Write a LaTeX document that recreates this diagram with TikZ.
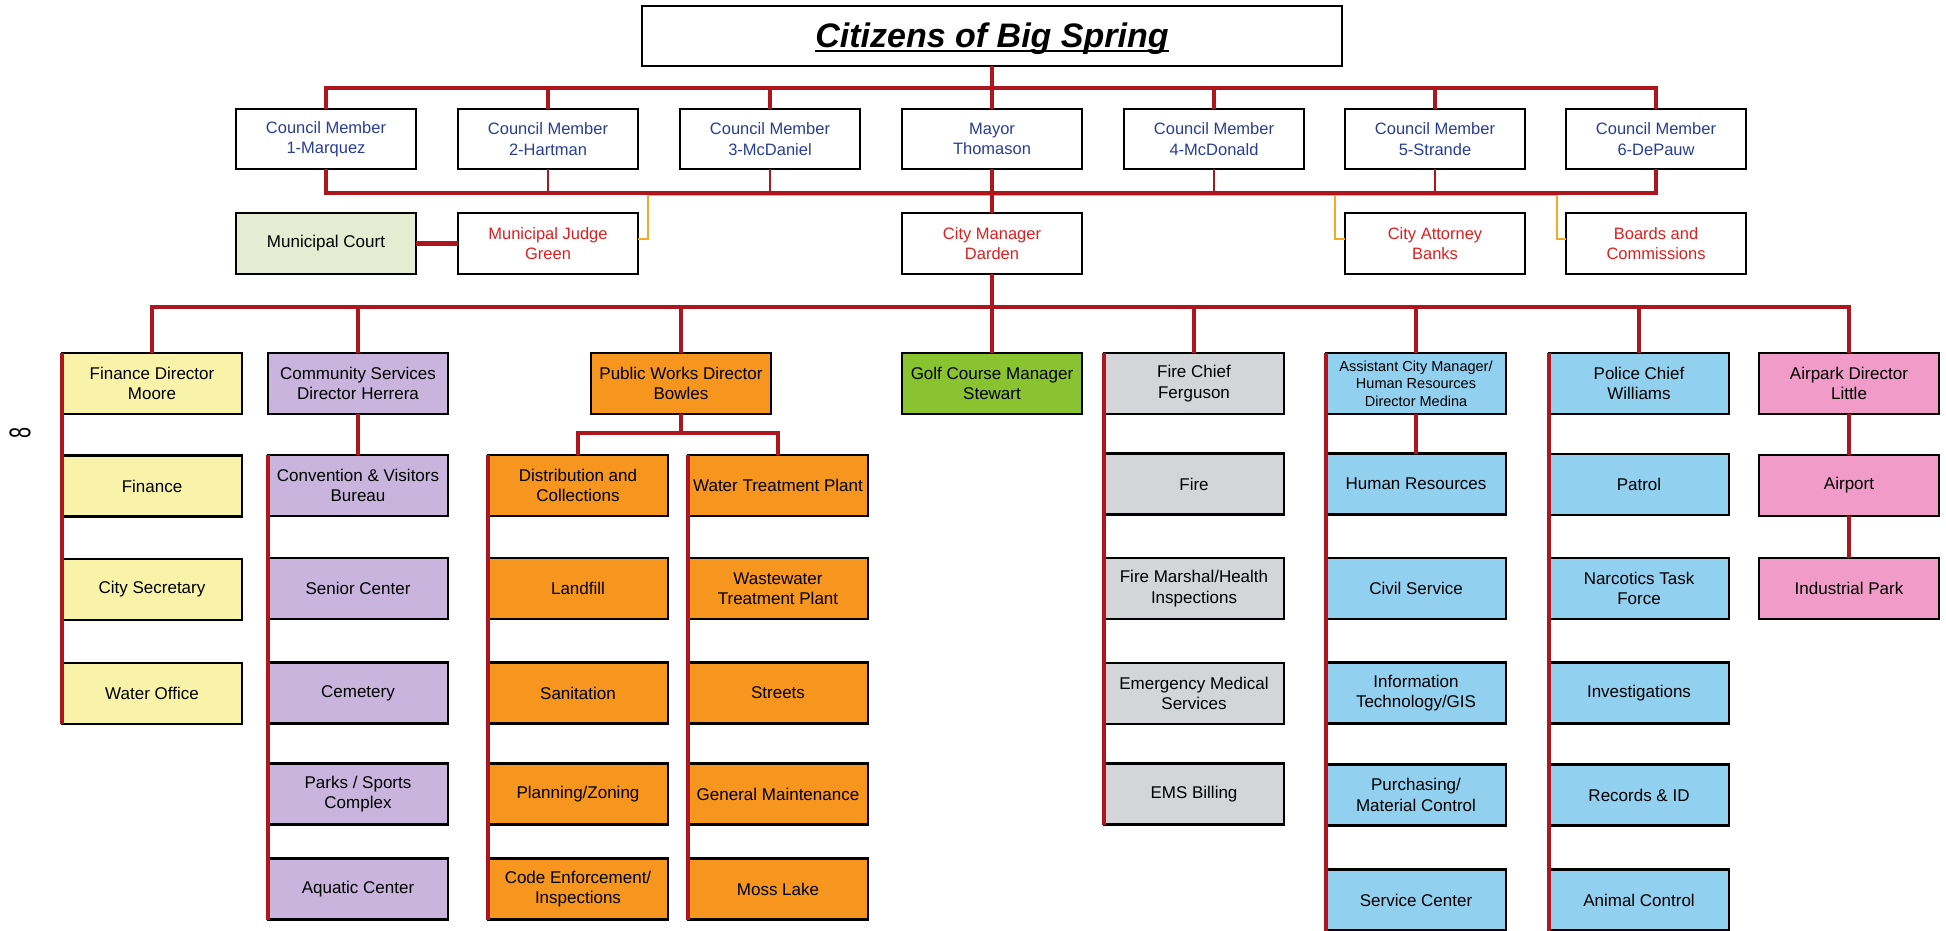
\documentclass[tikz,border=0pt]{standalone}
\usepackage{fontspec}
\setmainfont{Liberation Sans}
\usepackage{graphicx}
\definecolor{lnred}{RGB}{172,22,28}
\definecolor{orline}{RGB}{245,170,35}
\definecolor{cmblue}{RGB}{40,62,150}
\definecolor{txred}{RGB}{225,30,30}
\definecolor{courtg}{RGB}{228,236,210}
\definecolor{finy}{RGB}{249,243,170}
\definecolor{csp}{RGB}{201,180,221}
\definecolor{pwo}{RGB}{247,150,30}
\definecolor{golfg}{RGB}{137,196,48}
\definecolor{fireg}{RGB}{211,213,217}
\definecolor{blu}{RGB}{146,208,240}
\definecolor{pnk}{RGB}{240,155,200}
\begin{document}
\begin{tikzpicture}[x=1pt,y=-1pt,
  box/.style={draw=black, line width=2.8pt, minimum width=180pt, minimum height=61pt,
    inner sep=2pt, outer sep=0pt, align=center, font=\fontsize{17}{20.5}\selectfont},
  cmbox/.style={box, minimum height=60pt, text=cmblue, font=\fontsize{16.5}{20.5}\selectfont},
  redbox/.style={box, text=txred, font=\fontsize{16.5}{20.5}\selectfont},
  smallbox/.style={box, font=\fontsize{14.5}{17.5}\selectfont},
  bus/.style={draw=lnred, line width=4.5pt},
  drop/.style={draw=lnred, line width=3.5pt},
  stub/.style={draw=lnred, line width=2.5pt},
  orl/.style={draw=orline, line width=2pt}]
\fill[white] (0,0) rectangle (1946,930);
\useasboundingbox (0,0) rectangle (1946,930);
% title
\node[box, minimum width=700pt, minimum height=60pt] (title) at (992,36) {};
\node[inner sep=0pt, font=\fontsize{34}{40}\selectfont\bfseries\itshape, anchor=base] (ttl) at (992,47) {Citizens of Big Spring};
\draw[line width=2.5pt] ([yshift=-4pt]ttl.base west) -- ([yshift=-4pt]ttl.base east);
% council row
\node[cmbox] (cm1) at (326,139) {Council Member\\1-Marquez};
\node[cmbox] (cm2) at (548,139) {Council Member\\2-Hartman};
\node[cmbox] (cm3) at (770,139) {Council Member\\3-McDaniel};
\node[cmbox] (mayor) at (992,139) {Mayor\\Thomason};
\node[cmbox] (cm4) at (1214,139) {Council Member\\4-McDonald};
\node[cmbox] (cm5) at (1435,139) {Council Member\\5-Strande};
\node[cmbox] (cm6) at (1656,139) {Council Member\\6-DePauw};
% row 2
\node[box, fill=courtg] (court) at (326,243.5) {Municipal Court};
\node[redbox] (judge) at (548,243.5) {Municipal Judge\\Green};
\node[redbox] (mgr) at (992,243.5) {City Manager\\Darden};
\node[redbox] (atty) at (1435,243.5) {City Attorney\\Banks};
\node[redbox] (boards) at (1656,243.5) {Boards and\\Commissions};
% directors
\node[box, fill=finy] (fin) at (152,383.5) {Finance Director\\Moore};
\node[box, fill=csp] (cs) at (358,383.5) {Community Services\\Director Herrera};
\node[box, fill=pwo] (pw) at (681,383.5) {Public Works Director\\Bowles};
\node[box, fill=golfg] (golf) at (992,383.5) {Golf Course Manager\\Stewart};
\node[box, fill=fireg] (fire) at (1194,383.5) {Fire Chief\\Ferguson};
\node[smallbox, fill=blu] (acm) at (1416,383.5) {Assistant City Manager/\\Human Resources\\Director Medina};
\node[box, fill=blu] (police) at (1639,383.5) {Police Chief\\Williams};
\node[box, fill=pnk] (air) at (1849,383.5) {Airpark Director\\Little};
% finance
\node[box, fill=finy] (fin1) at (152,486) {Finance};
\node[box, fill=finy] (fin2) at (152,589.5) {City Secretary};
\node[box, fill=finy] (fin3) at (152,693.5) {Water Office};
% community services
\node[box, fill=csp] (cs1) at (358,485.5) {Convention \& Visitors\\Bureau};
\node[box, fill=csp] (cs2) at (358,588.5) {Senior Center};
\node[box, fill=csp] (cs3) at (358,693) {Cemetery};
\node[box, fill=csp] (cs4) at (358,794) {Parks / Sports\\Complex};
\node[box, fill=csp] (cs5) at (358,889) {Aquatic Center};
% public works
\node[box, fill=pwo] (pw1) at (578,485.5) {Distribution and\\Collections};
\node[box, fill=pwo] (pw2) at (578,588.5) {Landfill};
\node[box, fill=pwo] (pw3) at (578,693) {Sanitation};
\node[box, fill=pwo] (pw4) at (578,794) {Planning/Zoning};
\node[box, fill=pwo] (pw5) at (578,889) {Code Enforcement/\\Inspections};
\node[box, fill=pwo] (wt1) at (778,485.5) {Water Treatment Plant};
\node[box, fill=pwo] (wt2) at (778,588.5) {Wastewater\\Treatment Plant};
\node[box, fill=pwo] (wt3) at (778,693) {Streets};
\node[box, fill=pwo] (wt4) at (778,794) {General Maintenance};
\node[box, fill=pwo] (wt5) at (778,889) {Moss Lake};
% fire
\node[box, fill=fireg] (f1) at (1194,484) {Fire};
\node[box, fill=fireg] (f2) at (1194,588.5) {Fire Marshal/Health\\Inspections};
\node[box, fill=fireg] (f3) at (1194,693.5) {Emergency Medical\\Services};
\node[box, fill=fireg] (f4) at (1194,794) {EMS Billing};
% acm
\node[box, fill=blu] (a1) at (1416,484) {Human Resources};
\node[box, fill=blu] (a2) at (1416,588.5) {Civil Service};
\node[box, fill=blu] (a3) at (1416,693) {Information\\Technology/GIS};
\node[box, fill=blu] (a4) at (1416,795) {Purchasing/\\Material Control};
\node[box, fill=blu] (a5) at (1416,900) {Service Center};
% police
\node[box, fill=blu] (p1) at (1639,484.5) {Patrol};
\node[box, fill=blu] (p2) at (1639,588.5) {Narcotics Task\\Force};
\node[box, fill=blu] (p3) at (1639,693) {Investigations};
\node[box, fill=blu] (p4) at (1639,795) {Records \& ID};
\node[box, fill=blu] (p5) at (1639,900) {Animal Control};
% airpark
\node[box, fill=pnk] (ai1) at (1849,485.5) {Airport};
\node[box, fill=pnk] (ai2) at (1849,588.5) {Industrial Park};
% page mark
\node[inner sep=0pt] (pg) at (20,433) {\rotatebox{90}{\scalebox{0.66}[1]{\fontsize{30}{30}\selectfont 8}}};
% coordinates
\coordinate (tb) at (0,88);
\coordinate (bb) at (0,193);
\coordinate (mb) at (0,307);
\coordinate (pb) at (0,433);
\coordinate (o1) at (648,195.2);
\coordinate (o2) at (1335,195.2);
\coordinate (o3) at (1557,195.2);
% orange connectors
\draw[orl] ([yshift=5pt]judge.east) -| (o1) -- (o3) |- ([yshift=5pt]boards.west);
\draw[orl] (o2) |- ([yshift=5pt]atty.west);
% top bus
\draw[bus] (cm1.north) -- (cm1.north |- tb) -- (cm6.north |- tb) -- (cm6.north);
\foreach \n in {cm2,cm3,cm4,cm5} {\draw[drop] (\n.north) -- (\n.north |- tb);}
\draw[drop] (title.south) -- (mayor.north);
% bottom bus
\draw[bus] (cm1.south) -- (cm1.south |- bb) -- (cm6.south |- bb) -- (cm6.south);
\foreach \n in {cm2,cm3,cm4,cm5} {\draw[stub] (\n.south) -- (\n.south |- bb);}
\draw[drop] (mayor.south) -- (mgr.north);
\draw[bus] (court.east) -- (judge.west);
% main bus
\draw[drop] (mgr.south) -- (golf.north);
\draw[bus] (fin.north) -- (fin.north |- mb) -- (air.north |- mb) -- (air.north);
\foreach \n in {cs,pw,fire,acm,police} {\draw[drop] (\n.north) -- (\n.north |- mb);}
% public works branch
\draw[drop] (pw.south) -- (pw.south |- pb);
\draw[drop] (pw1.north) -- (pw1.north |- pb) -- (wt1.north |- pb) -- (wt1.north);
% side lines
\draw[drop] (fin.north west) -- (fin3.south west);
\draw[drop] (cs.south) -- (cs1.north);
\draw[drop] (cs1.north west) -- (cs5.south west);
\draw[drop] (pw1.north west) -- (pw5.south west);
\draw[drop] (wt1.north west) -- (wt5.south west);
\draw[drop] (fire.north west) -- (f4.south west);
\draw[drop] (acm.south) -- (a1.north);
\draw[drop] (acm.north west) -- (a5.south west);
\draw[drop] (police.north west) -- (p5.south west);
\draw[drop] (air.south) -- (ai1.north);
\draw[drop] (ai1.south) -- (ai2.north);
\end{tikzpicture}
\end{document}
